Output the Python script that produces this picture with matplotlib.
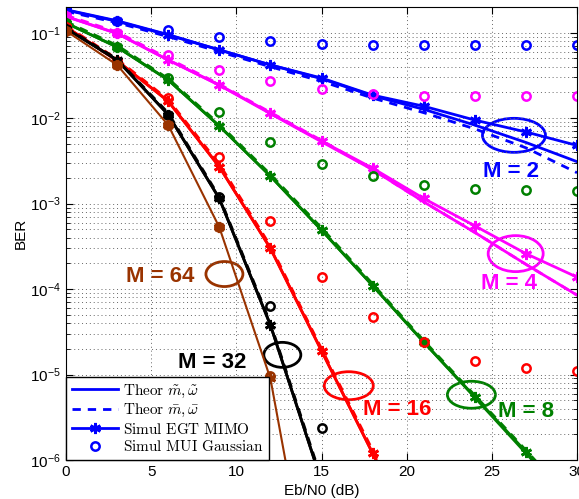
import numpy as np
import matplotlib
matplotlib.use("Agg")
import matplotlib.pyplot as plt
from matplotlib.patches import Ellipse
from matplotlib.lines import Line2D
import matplotlib.transforms as mtransforms

plt.rcParams['font.family'] = ['Liberation Sans', 'DejaVu Sans']
plt.rcParams['mathtext.fontset'] = 'cm'

snr = [0, 3, 6, 9, 12, 15, 18, 21, 24, 27, 30]

# M = 2
m2_egt = [0.186, 0.138, 0.095, 0.063, 0.042, 0.0295, 0.0186, 0.0138, 0.0095, 0.0069, 0.0048]
m2_mui = [0.186, 0.138, 0.108, 0.089, 0.080, 0.074, 0.071, 0.071, 0.071, 0.071, 0.071]
m2_tilde = [0.184, 0.136, 0.094, 0.063, 0.042, 0.029, 0.0183, 0.0127, 0.0083, 0.0052, 0.0031]
m2_bar = [0.178, 0.131, 0.090, 0.060, 0.040, 0.027, 0.0172, 0.0116, 0.0075, 0.0045, 0.0023]

# M = 4
m4_egt = [0.155, 0.098, 0.048, 0.0245, 0.0115, 0.0054, 0.0026, 0.00115, 0.00055, 0.00026, 0.000138]
m4_mui = [0.155, 0.098, 0.055, 0.037, 0.027, 0.022, 0.019, 0.018, 0.018, 0.018, 0.018]
m4_tilde = [0.155, 0.098, 0.048, 0.0243, 0.0113, 0.0053, 0.0025, 0.00105, 0.00046, 0.000195, 0.000085]
m4_bar = [0.160, 0.102, 0.050, 0.0250, 0.0117, 0.0055, 0.0025, 0.00105, 0.00046, 0.000195, 0.000085]

# M = 8
m8_egt = [0.13, 0.068, 0.028, 0.0081, 0.0021, 0.00049, 0.00011, 2.4e-5, 5.5e-6, 1.25e-6, 2.8e-7]
m8_mui = [0.13, 0.068, 0.0295, 0.0118, 0.0052, 0.0029, 0.0021, 0.00166, 0.0015, 0.00143, 0.0014]
m8_tilde = [0.13, 0.068, 0.028, 0.0081, 0.0021, 0.00049, 0.00011, 2.4e-5, 5.4e-6, 1.2e-6, 2.7e-7]
m8_bar = [0.135, 0.071, 0.029, 0.0085, 0.0022, 0.00052, 0.000115, 2.5e-5, 5.7e-6, 1.3e-6, 2.9e-7]

# M = 16
m16_egt = [0.117, 0.047, 0.0158, 0.0027, 0.0003, 1.9e-5, 1.2e-6, 8e-8]
m16_mui = [0.117, 0.047, 0.017, 0.0035, 0.00063, 0.00014, 4.7e-5, 2.4e-5, 1.45e-5, 1.2e-5, 1.1e-5]
m16_tilde = [0.117, 0.047, 0.0158, 0.0027, 0.0003, 1.9e-5, 1.2e-6, 8e-8]
m16_bar = [0.121, 0.049, 0.0165, 0.0029, 0.00032, 2.0e-5, 1.3e-6, 9e-8]

# M = 32
m32_egt = [0.112, 0.048, 0.011, 0.00115, 3.8e-5, 5.6e-7]
m32_mui = [0.112, 0.044, 0.011, 0.0012, 6.3e-5, 2.4e-6]
m32_tilde = [0.112, 0.048, 0.011, 0.00115, 3.8e-5, 5.6e-7]
m32_bar = [0.115, 0.049, 0.0115, 0.0012, 4.0e-5, 6e-7]

# M = 64
m64_egt = [0.105, 0.042, 0.0083, 0.00053, 9e-6, 5e-9]
m64_mui = [0.105, 0.042, 0.0083, 0.00053, 9.5e-6]

curves = [
    ("M = 2", "#0000ff", m2_egt, m2_mui, m2_tilde, m2_bar),
    ("M = 4", "#ff00ff", m4_egt, m4_mui, m4_tilde, m4_bar),
    ("M = 8", "#008000", m8_egt, m8_mui, m8_tilde, m8_bar),
    ("M = 16", "#ff0000", m16_egt, m16_mui, m16_tilde, m16_bar),
    ("M = 32", "#000000", m32_egt, m32_mui, m32_tilde, m32_bar),
    ("M = 64", "#993300", m64_egt, m64_mui, None, None),
]

star = (6, 2, 0)

fig = plt.figure(figsize=(5.79, 4.99), dpi=100)
ax = fig.add_axes([66/579, 39/499, 511/579, 453/499])

for name, col, egt, mui, tilde, bar in curves:
    lw = 1.5 if name == "M = 64" else 2
    if tilde is not None:
        ax.plot(snr[:len(tilde)], tilde, '-', color=col, lw=lw)
        ax.plot(snr[:len(bar)], bar, color=col, lw=lw, linestyle=(0, (3, 2.5)))
    ax.plot(snr[:len(egt)], egt, '-', color=col, lw=lw, marker=star, ms=8, mew=2)
    ax.plot(snr[:len(mui)], mui, 'o', color=col, ms=6, mew=1.8, mfc='none', ls='none')

# ellipses and labels: (center dB, center BER, width px, height px, label dB, label BER)
notes = {
    "M = 2": (26.3, 6.3e-3, 63, 34, 26.1, 2.4e-3),
    "M = 4": (26.4, 2.6e-4, 55, 36, 26.0, 1.15e-4),
    "M = 8": (23.8, 5.8e-6, 48, 27, 27.0, 3.7e-6),
    "M = 16": (16.6, 7.4e-6, 49, 28, 19.45, 3.9e-6),
    "M = 32": (12.7, 1.7e-5, 37, 25, 8.6, 1.4e-5),
    "M = 64": (9.3, 1.5e-4, 37, 25, 5.55, 1.4e-4),
}
for name, col, *_ in curves:
    cx, cy, w, h, tx, ty = notes[name]
    trans = fig.dpi_scale_trans + mtransforms.ScaledTranslation(cx, cy, ax.transData)
    ax.add_patch(Ellipse((0, 0), w/100, h/100, fill=False, ec=col, lw=2, transform=trans, clip_on=False))
    ax.text(tx, ty, name, color=col, fontsize=16, fontweight='bold', ha='center', va='center')

ax.set_yscale('log')
ax.set_xlim(0, 30)
ax.set_ylim(1e-6, 0.2)
ax.set_xticks([0, 5, 10, 15, 20, 25, 30])
ax.tick_params(which='both', direction='in', top=True, right=True, labelsize=11)
ax.tick_params(which='major', length=5)
ax.tick_params(which='minor', length=3)
ax.grid(True, which='major', ls=(0, (1, 3)), color='0.4', lw=0.7)
ax.grid(True, which='minor', axis='y', ls=(0, (1, 3)), color='0.4', lw=0.7)
ax.set_xlabel("Eb/N0 (dB)", fontsize=11, labelpad=4)
ax.set_ylabel("BER", fontsize=11, labelpad=2)

handles = [
    Line2D([], [], color='#0000ff', lw=2),
    Line2D([], [], color='#0000ff', lw=2, ls=(0, (3, 2.5))),
    Line2D([], [], color='#0000ff', lw=2, marker=star, ms=8, mew=2),
    Line2D([], [], color='#0000ff', ls='none', marker='o', ms=6, mew=1.8, mfc='none'),
]
labels = [
    r"$\mathrm{Theor}\ \tilde{m},\tilde{\omega}$",
    r"$\mathrm{Theor}\ \bar{m},\bar{\omega}$",
    r"$\mathrm{Simul\ EGT\ MIMO}$",
    r"$\mathrm{Simul\ MUI\ Gaussian}$",
]
leg = ax.legend(handles, labels, loc='lower left', bbox_to_anchor=(0, 0), borderaxespad=0,
                fontsize=11, handlelength=3.0, handletextpad=0.3, labelspacing=0.15,
                borderpad=0.4, fancybox=False, framealpha=1, edgecolor='black')
leg.get_frame().set_linewidth(1)

fig.savefig("out.png", dpi=100)
